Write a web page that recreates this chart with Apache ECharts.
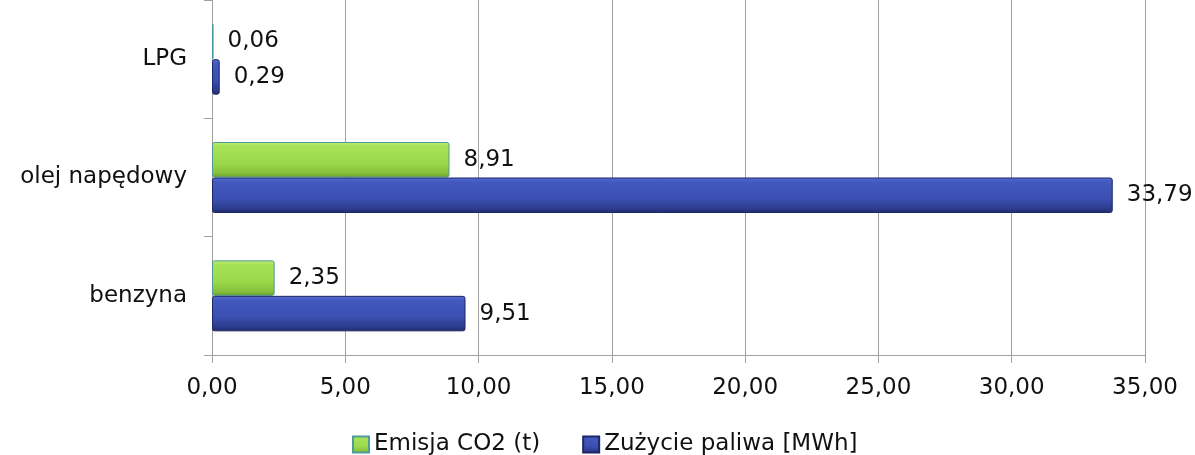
<!DOCTYPE html>
<html>
<head>
<meta charset="utf-8">
<style>
  html, body { margin: 0; padding: 0; background: #fff; }
  #chart { width: 1195px; height: 455px; }
</style>
<script src="https://cdn.jsdelivr.net/npm/echarts@6/dist/echarts.min.js"></script>
</head>
<body>
<div id="chart"></div>
<script>
// categories bottom -> top
const categories = ["benzyna", "olej napędowy", "LPG"];
const emisjaCO2 = [2.35, 8.91, 0.06];
const zuzyciePaliwa = [9.51, 33.79, 0.29];
const seriesNames = ["Emisja CO2 (t)", "Zużycie paliwa [MWh]"];

const FONT = "DejaVu Sans";
const fmt = (v) => Number(v).toFixed(2).replace(".", ",");

const greenFill = new echarts.graphic.LinearGradient(0, 0, 0, 1, [
  { offset: 0, color: "#bdee78" },
  { offset: 0.12, color: "#a6e257" },
  { offset: 0.6, color: "#9bd94b" },
  { offset: 0.88, color: "#86c03b" },
  { offset: 1, color: "#6e9e2e" },
]);
const blueFill = new echarts.graphic.LinearGradient(0, 0, 0, 1, [
  { offset: 0, color: "#5570d0" },
  { offset: 0.12, color: "#4359bf" },
  { offset: 0.6, color: "#3a4fb1" },
  { offset: 0.88, color: "#2c3b8c" },
  { offset: 1, color: "#1f2a6a" },
]);

const mychart = echarts.init(document.getElementById("chart"));
const labelStyle = {
  show: true,
  position: "right",
  distance: 14,
  fontFamily: FONT,
  fontSize: 23,
  color: "#111",
  formatter: (p) => fmt(p.value),
};

mychart.setOption({
  animation: false,
  textStyle: { fontFamily: FONT },
  grid: { left: 212, right: 50, top: -8, bottom: 100 },
  legend: {
    data: seriesNames,
    bottom: -6,
    left: 347,
    itemWidth: 16,
    itemHeight: 16,
    itemGap: 42,
    icon: "rect",
    textStyle: { fontFamily: FONT, fontSize: 23, color: "#111" },
  },
  xAxis: {
    type: "value",
    min: 0,
    max: 35,
    interval: 5,
    axisLine: { show: true, lineStyle: { color: "#a0a0a0" } },
    axisTick: { show: true, length: 8, lineStyle: { color: "#a0a0a0" } },
    splitLine: { show: true, lineStyle: { color: "#a0a0a0" } },
    axisLabel: {
      margin: 22,
      fontFamily: FONT,
      fontSize: 23,
      color: "#111",
      formatter: fmt,
    },
  },
  yAxis: {
    type: "category",
    data: categories,
    axisLine: { show: true, lineStyle: { color: "#a0a0a0" } },
    axisTick: { show: true, length: 8, lineStyle: { color: "#a0a0a0" } },
    axisLabel: { margin: 25, fontFamily: FONT, fontSize: 23, color: "#111" },
  },
  series: [
    {
      name: seriesNames[0],
      type: "bar",
      data: emisjaCO2,
      barGap: "0%",
      barCategoryGap: "40%",
      itemStyle: { color: greenFill, borderColor: "#4f9a9a", borderWidth: 1, borderRadius: 2 },
      label: labelStyle,
    },
    {
      name: seriesNames[1],
      type: "bar",
      data: zuzyciePaliwa,
      itemStyle: { color: blueFill, borderColor: "#1c2766", borderWidth: 1, borderRadius: 2 },
      label: labelStyle,
    },
  ],
});
</script>
</body>
</html>
